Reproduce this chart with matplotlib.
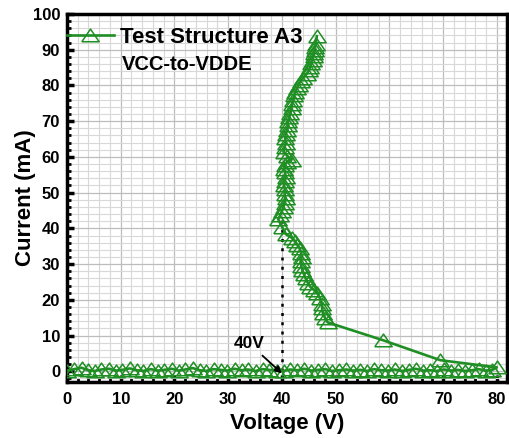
import matplotlib
matplotlib.use("Agg")
import matplotlib.pyplot as plt
from matplotlib.ticker import MultipleLocator

plt.rcParams['font.family'] = ['Liberation Sans', 'DejaVu Sans']
plt.rcParams['font.weight'] = 'bold'

# ---- data ----
sweep_v = [0.0, 1.3, 2.7, 3.9, 5.2, 6.4, 7.8, 9.1, 10.3, 11.7, 13.0, 14.2, 15.6, 16.9,
           18.1, 19.5, 20.8, 22.0, 23.4, 24.7, 25.9, 27.3, 28.6, 29.8, 31.2, 32.5, 33.7,
           35.1, 36.4, 37.6, 39.0, 40.3, 41.5, 42.9, 44.2, 45.4, 46.8, 48.1, 49.3, 50.7,
           52.0, 53.2, 54.6, 55.9, 57.1, 58.5, 59.8, 61.0, 62.4, 63.7, 64.9, 66.3, 67.6,
           68.8, 70.2, 71.5, 72.7, 74.1, 75.4, 76.6, 78.0, 79.2]
sweep_i = [0.2, 0.6, 1.0, 0.3, 0.1, 0.5, 0.7, 0.2, 0.4, 0.8, 0.3, 0.1, 0.6, 0.2,
           0.4, 0.7, 0.2, 0.5, 0.9, 0.3, 0.1, 0.6, 0.4, 0.2, 0.7, 0.3, 0.5,
           0.1, 0.6, 0.4, 0.2, 0.1, 0.5, 0.3, 0.7, 0.2, 0.4, 0.6, 0.1, 0.3,
           0.5, 0.2, 0.4, 0.1, 0.6, 0.3, 0.2, 0.5, 0.1, 0.4, 0.7, 0.2, 0.3,
           0.1, 0.5, 0.2, 0.4, 0.1, 0.3, 0.6, 0.2, 0.4]
snap_v = [80.0, 69.5, 58.8]
snap_i = [1.1, 3.1, 8.7]
upper_v = [48.5, 48.0, 47.6, 47.5, 47.4, 47.1, 46.6, 46.0, 45.3, 44.8, 44.4, 44.1, 43.8, 43.6,
           43.5, 43.7, 43.6, 43.3, 42.9, 42.4, 41.8, 40.8, 40.0, 39.3, 39.7, 40.0, 40.3, 40.5,
           40.7, 40.5, 40.6, 40.4, 40.5, 40.7, 40.6, 40.4, 40.5, 40.9, 41.8, 41.0, 40.3, 40.5,
           40.8, 40.6, 40.7, 41.0, 41.2, 41.1, 41.4, 41.6, 41.8, 41.9, 42.1, 42.3, 42.5, 42.8,
           43.1, 43.5, 44.0, 44.6, 45.0, 45.3, 45.5, 45.7, 45.9, 46.0, 46.1, 46.2, 46.3, 46.5]
upper_i = [13.7, 15.0, 16.4, 17.6, 18.9, 20.4, 21.8, 22.8, 23.6, 24.8, 26.0, 27.2, 28.3, 29.5,
           30.8, 32.0, 33.1, 34.4, 35.4, 36.5, 37.4, 38.3, 40.5, 42.6, 43.7, 44.9, 46.0, 47.2,
           48.4, 49.6, 50.9, 52.1, 53.3, 54.5, 55.7, 56.7, 57.7, 58.6, 59.2, 60.3, 61.5, 62.8,
           64.0, 65.2, 66.4, 67.6, 68.8, 70.0, 71.2, 72.4, 73.6, 74.8, 76.0, 77.2, 78.2, 79.2,
           80.2, 81.2, 82.2, 83.2, 84.2, 85.2, 86.2, 87.2, 88.2, 89.2, 90.0, 90.8, 91.5, 93.8]

volt = sweep_v + snap_v + upper_v
curr = sweep_i + snap_i + upper_i

x_ticks = [0, 10, 20, 30, 40, 50, 60, 70, 80]
y_ticks = [0, 10, 20, 30, 40, 50, 60, 70, 80, 90, 100]

green = '#1f8f24'
# slightly wide open triangle, like the original's marker
tri = [(-1.0, -0.72), (1.0, -0.72), (0.0, 0.74), (-1.0, -0.72)]

fig = plt.figure(figsize=(5.10, 4.38), dpi=100)
ax = fig.add_axes([67/510, 1-382/438, 440/510, 368/438])

ax.plot(volt, curr, color=green, lw=1.9, marker=tri, ms=12.5, mfc='none',
        mec=green, mew=1.1, label='Test Structure A3', zorder=3)

# dotted marker at 40 V
ax.plot([40, 40], [0, 44], color='black', lw=1.8, ls=(0, (1.2, 2.5)), zorder=2)
ax.annotate('40V', xy=(40, -0.6), xytext=(33.9, 7.8), ha='center', va='center',
            fontsize=12.5, fontweight='bold',
            arrowprops=dict(arrowstyle='-|>', color='black', lw=1.3, shrinkA=2, shrinkB=0,
                            mutation_scale=10))

ax.text(10.3, 85.8, 'VCC-to-VDDE', fontsize=14.5, fontweight='bold', ha='left', va='center')

ax.set_xlim(0, 81.9)
ax.set_ylim(-3, 100)
ax.set_xticks(x_ticks)
ax.set_yticks(y_ticks)
ax.xaxis.set_minor_locator(MultipleLocator(2))
ax.yaxis.set_minor_locator(MultipleLocator(2))
ax.grid(which='major', color='#bdbdbd', lw=0.9, zorder=0)
ax.grid(which='minor', color='#d8d8d8', lw=0.8, zorder=0)
ax.set_axisbelow(True)

ax.tick_params(which='major', direction='in', length=5, width=2.5, labelsize=12, pad=5)
ax.tick_params(which='minor', direction='in', length=3, width=2)
ax.tick_params(axis='x', which='major', pad=7)
for lbl in ax.get_xticklabels() + ax.get_yticklabels():
    lbl.set_fontweight('bold')
for s in ax.spines.values():
    s.set_linewidth(2.5)

ax.set_xlabel('Voltage (V)', fontsize=16, fontweight='bold')
ax.set_ylabel('Current (mA)', fontsize=16, fontweight='bold')
ax.xaxis.label.set_va('center')
ax.yaxis.label.set_va('center')
ax.xaxis.set_label_coords(0.5, (382-423)/368)
ax.yaxis.set_label_coords((25-67)/440, 0.5)

leg = ax.legend(loc='upper left', bbox_to_anchor=(0.0, 0.966), frameon=False,
                borderpad=0, borderaxespad=0, handlelength=2.1, handletextpad=0.3,
                prop={'size': 16, 'weight': 'bold'})

fig.savefig('out.png', dpi=100)
